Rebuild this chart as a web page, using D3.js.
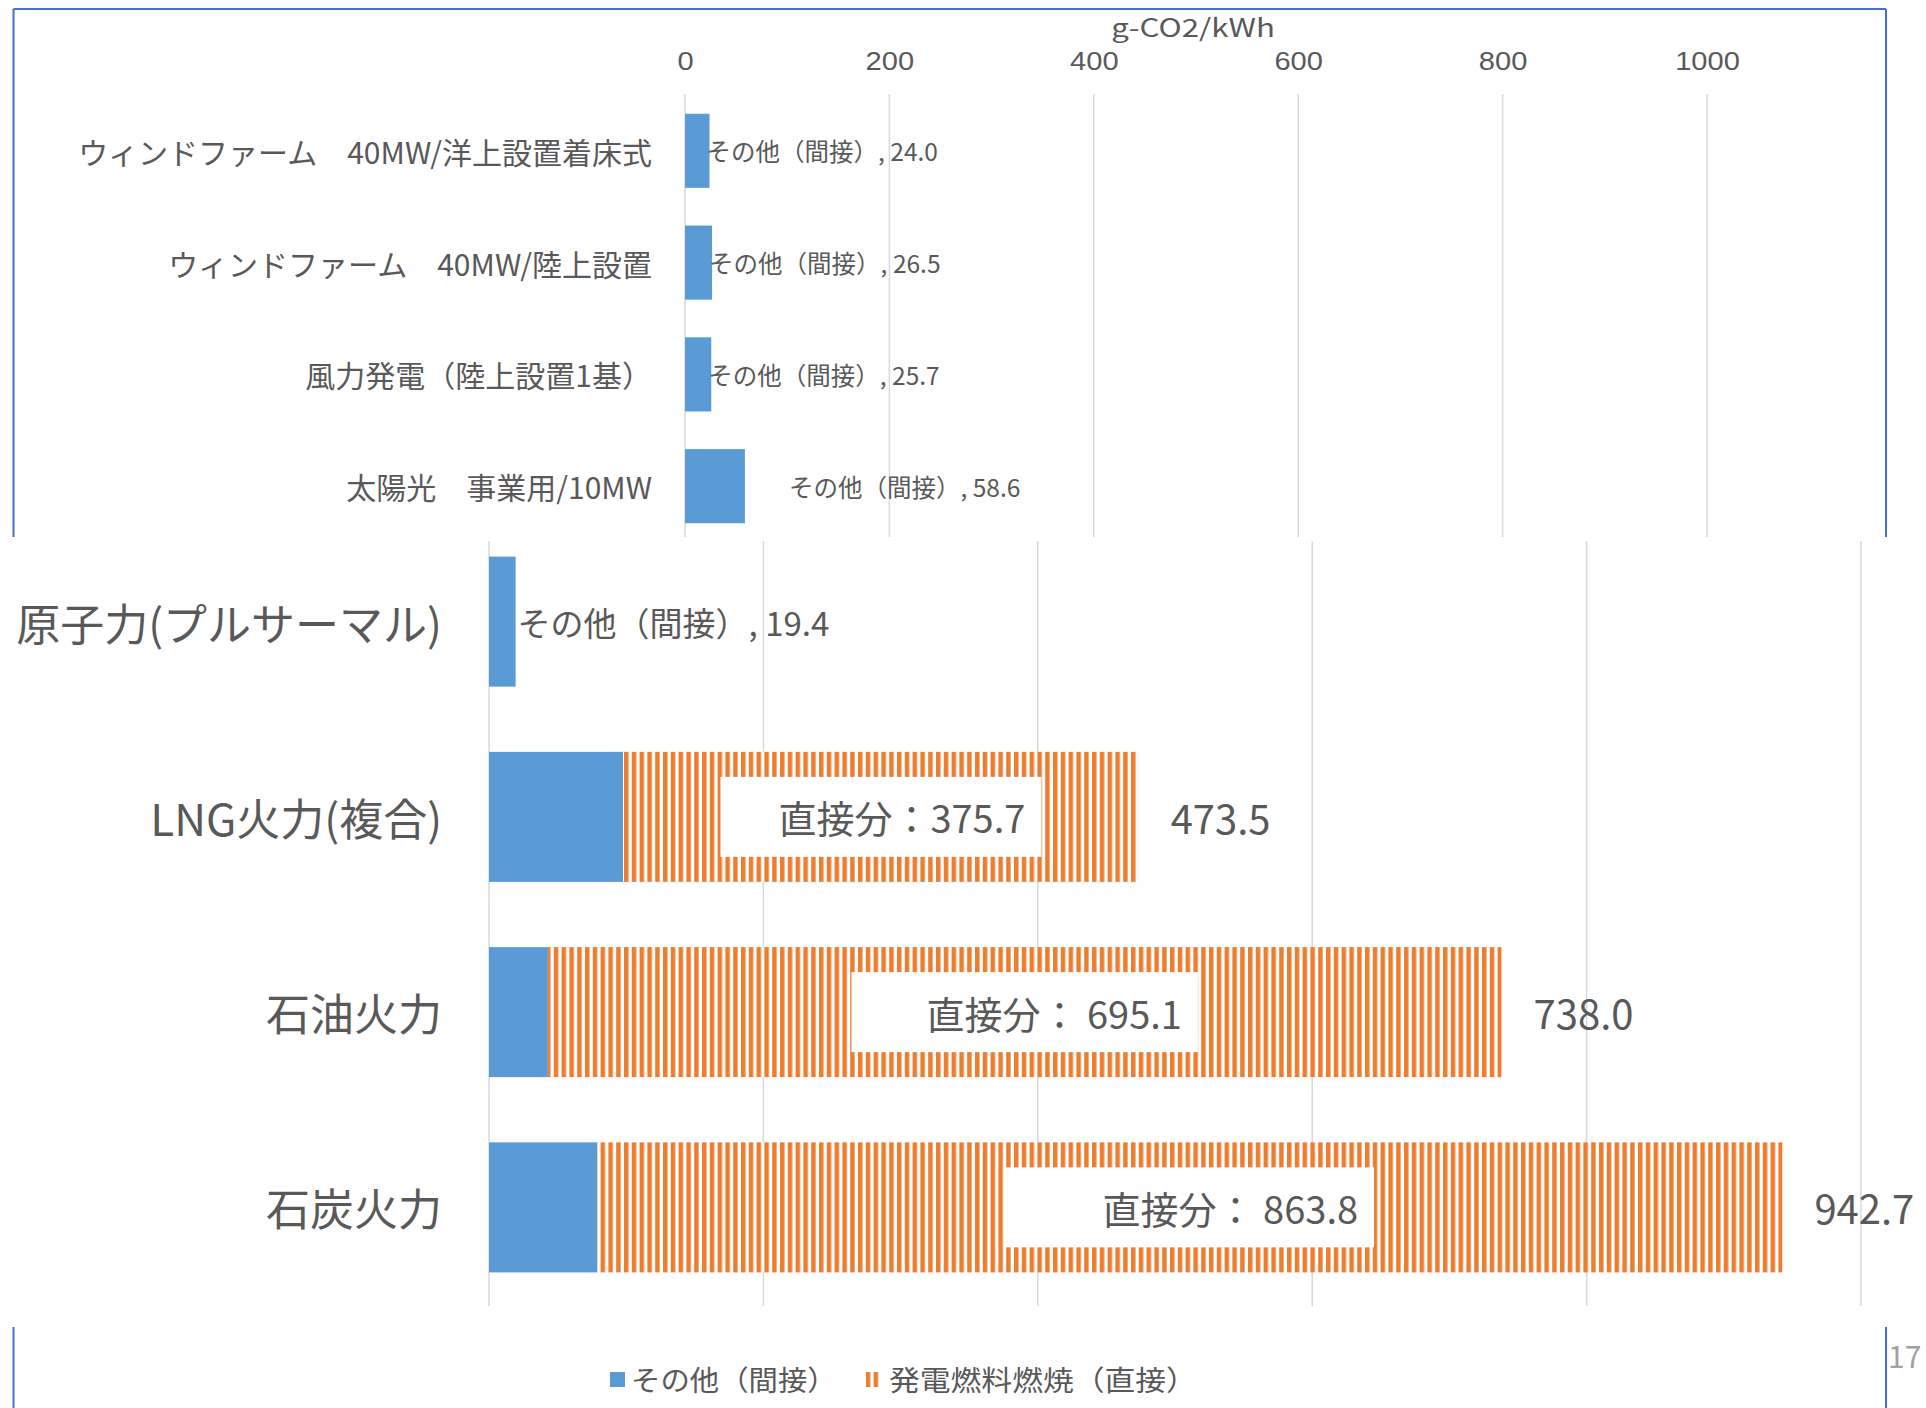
<!DOCTYPE html>
<html>
<head>
<meta charset="utf-8">
<script src="https://cdn.jsdelivr.net/npm/d3@7"></script>
<style>
  html, body { margin: 0; padding: 0; background: #ffffff; }
  svg { display: block; font-family: "Noto Sans CJK JP", "Noto Sans", sans-serif; }
</style>
</head>
<body>
<svg id="chart" width="1926" height="1408"></svg>
<script>
// ---- data ----
const axisTitle = "g-CO2/kWh";
const xTicks = [0, 200, 400, 600, 800, 1000];
const seriesNames = ["その他（間接）", "発電燃料燃焼（直接）"];

// renewables (indirect emissions only)
const renewCategories = [
  "ウィンドファーム　40MW/洋上設置着床式",
  "ウィンドファーム　40MW/陸上設置",
  "風力発電（陸上設置1基）",
  "太陽光　事業用/10MW"
];
const renewIndirect = [24.0, 26.5, 25.7, 58.6];

// nuclear and thermal (indirect + direct combustion)
const thermalCategories = ["原子力(プルサーマル)", "LNG火力(複合)", "石油火力", "石炭火力"];
const thermalIndirect = [19.4, 97.8, 42.9, 78.9];
const thermalDirect = [0, 375.7, 695.1, 863.8];
const thermalTotal = [19.4, 473.5, 738.0, 942.7];
const directLabelPrefix = ["", "直接分：", "直接分： ", "直接分： "];
const pageNumber = "17";

// ---- styles / layout ----
const BLUE = "#5B9BD5", ORANGE = "#ED7D31", TEXT = "#595959", GRID = "#D9D9D9", FRAME = "#4472C4";
const fmt = d3.format(".1f");
const renewLabelNudge = [-3, -3, -3, 44];     // label offset from bar end
const directBoxExtra = [0, 74, 91, 113];      // label box width beyond its text

const svg = d3.select("#chart");

// vertical-stripe fill for the direct-combustion series
const defs = svg.append("defs");
const pat = defs.append("pattern")
  .attr("id", "vstripe").attr("patternUnits", "userSpaceOnUse")
  .attr("width", 7.8).attr("height", 10);
pat.append("rect").attr("width", 7.8).attr("height", 10).attr("fill", "#ffffff");
pat.append("rect").attr("x", 0).attr("width", 4.5).attr("height", 10).attr("fill", ORANGE);

function addText(g, o) {
  return g.append("text")
    .attr("transform", `translate(${o.x},${o.y}) scale(${o.sx || 1},1)`)
    .attr("font-size", o.size)
    .attr("text-anchor", o.anchor || "start")
    .attr("dominant-baseline", "central")
    .attr("fill", o.fill || TEXT)
    .text(o.text);
}

// ---- frame lines of the slide ----
const frame = svg.append("g").attr("stroke", FRAME).attr("stroke-width", 2).attr("fill", "none");
frame.append("line").attr("x1", 13.5).attr("x2", 1886).attr("y1", 9).attr("y2", 9);
frame.append("line").attr("x1", 13.5).attr("x2", 13.5).attr("y1", 9).attr("y2", 537);
frame.append("line").attr("x1", 1886).attr("x2", 1886).attr("y1", 9).attr("y2", 537);
frame.append("line").attr("x1", 13.5).attr("x2", 13.5).attr("y1", 1327).attr("y2", 1408);
frame.append("line").attr("x1", 1886).attr("x2", 1886).attr("y1", 1327).attr("y2", 1408);

// ================= upper chart: renewables =================
const upperG = svg.append("g");
const xTop = d3.scaleLinear().domain([0, 1000]).range([685, 1707]);
const yTop = d3.scaleBand().domain(renewCategories).range([95, 542])
  .paddingInner(0.337).paddingOuter(0.168);

addText(upperG, { x: 1193, y: 26, text: axisTitle, size: 25, anchor: "middle", sx: 1.25 });

const topAxis = d3.axisTop(xTop).tickValues(xTicks).tickSize(0).tickPadding(0).tickFormat(d3.format("d"));
const topAxisG = upperG.append("g").attr("transform", "translate(0,61)").call(topAxis);
topAxisG.select(".domain").remove();
topAxisG.selectAll("text")
  .attr("font-size", 26).attr("fill", TEXT).attr("font-family", "inherit")
  .attr("dominant-baseline", "central").attr("dy", null).attr("y", 0)
  .attr("transform", "scale(1.12,1)")
  .attr("x", 0);

upperG.append("g").selectAll("line").data(xTicks).join("line")
  .attr("x1", d => xTop(d)).attr("x2", d => xTop(d))
  .attr("y1", 94).attr("y2", 537)
  .attr("stroke", GRID).attr("stroke-width", 1.5);

upperG.append("g").selectAll("rect").data(renewIndirect).join("rect")
  .attr("x", xTop(0)).attr("y", (d, i) => yTop(renewCategories[i]))
  .attr("width", d => xTop(d) - xTop(0)).attr("height", yTop.bandwidth())
  .attr("fill", BLUE);

renewCategories.forEach((c, i) => {
  addText(upperG, { x: 652, y: yTop(c) + yTop.bandwidth() / 2, text: c, size: 30, anchor: "end" });
});

renewIndirect.forEach((v, i) => {
  addText(upperG, {
    x: xTop(v) + renewLabelNudge[i], y: yTop(renewCategories[i]) + yTop.bandwidth() / 2,
    text: `${seriesNames[0]}, ${fmt(v)}`, size: 24.5
  });
});

// ================= lower chart: nuclear & thermal =================
const lowerG = svg.append("g");
const xBot = d3.scaleLinear().domain([0, 1000]).range([489, 1861]);
const yBot = d3.scaleBand().domain(thermalCategories).range([524, 1305])
  .paddingInner(0.334).paddingOuter(0.167);

lowerG.append("g").selectAll("line").data(xTicks).join("line")
  .attr("x1", d => xBot(d)).attr("x2", d => xBot(d))
  .attr("y1", 541).attr("y2", 1306)
  .attr("stroke", GRID).attr("stroke-width", 1.5);

// indirect segment
lowerG.append("g").selectAll("rect").data(thermalIndirect).join("rect")
  .attr("x", xBot(0)).attr("y", (d, i) => yBot(thermalCategories[i]))
  .attr("width", d => xBot(d) - xBot(0)).attr("height", yBot.bandwidth())
  .attr("fill", BLUE);

// direct combustion segment, stacked after the indirect part
lowerG.append("g").selectAll("rect").data(thermalDirect).join("rect")
  .attr("x", (d, i) => xBot(thermalIndirect[i]))
  .attr("y", (d, i) => yBot(thermalCategories[i]))
  .attr("width", (d, i) => xBot(thermalIndirect[i] + d) - xBot(thermalIndirect[i]))
  .attr("height", yBot.bandwidth())
  .attr("fill", "url(#vstripe)");

thermalCategories.forEach((c, i) => {
  addText(lowerG, { x: 442, y: yBot(c) + yBot.bandwidth() / 2, text: c, size: 44, anchor: "end" });
});

// labels
thermalCategories.forEach((c, i) => {
  const cy = yBot(c) + yBot.bandwidth() / 2;
  if (thermalDirect[i] > 0) {
    const x0 = xBot(thermalIndirect[i]);
    const x1 = xBot(thermalIndirect[i] + thermalDirect[i]);
    const mid = (x0 + x1) / 2;
    const g = lowerG.append("g");
    const box = g.append("rect").attr("fill", "#ffffff");
    const t = addText(g, { x: 0, y: cy, text: directLabelPrefix[i] + fmt(thermalDirect[i]), size: 38 });
    const w = t.node().getComputedTextLength();
    const bw = w + directBoxExtra[i];
    const bx = mid - bw / 2;
    box.attr("x", bx).attr("y", cy - 40).attr("width", bw).attr("height", 80);
    t.attr("transform", `translate(${bx + bw - 16 - w},${cy})`);
    addText(lowerG, { x: x1 + 32, y: cy, text: fmt(thermalTotal[i]), size: 40 });
  } else {
    addText(lowerG, { x: xBot(thermalIndirect[i]) + 2, y: cy, text: `${seriesNames[0]}, ${fmt(thermalIndirect[i])}`, size: 33 });
  }
});

// legend
const leg = svg.append("g");
leg.append("rect").attr("x", 610).attr("y", 1372).attr("width", 15).attr("height", 15).attr("fill", BLUE);
addText(leg, { x: 631, y: 1379, text: seriesNames[0], size: 28, sx: 1.05 });
leg.append("rect").attr("x", 866).attr("y", 1372).attr("width", 14).attr("height", 15).attr("fill", "url(#vstripe)");
addText(leg, { x: 889, y: 1379, text: seriesNames[1], size: 28, sx: 1.1 });

// page number
addText(svg, { x: 1888, y: 1355, text: pageNumber, size: 30, fill: "#A0A0A0" });
</script>
</body>
</html>
